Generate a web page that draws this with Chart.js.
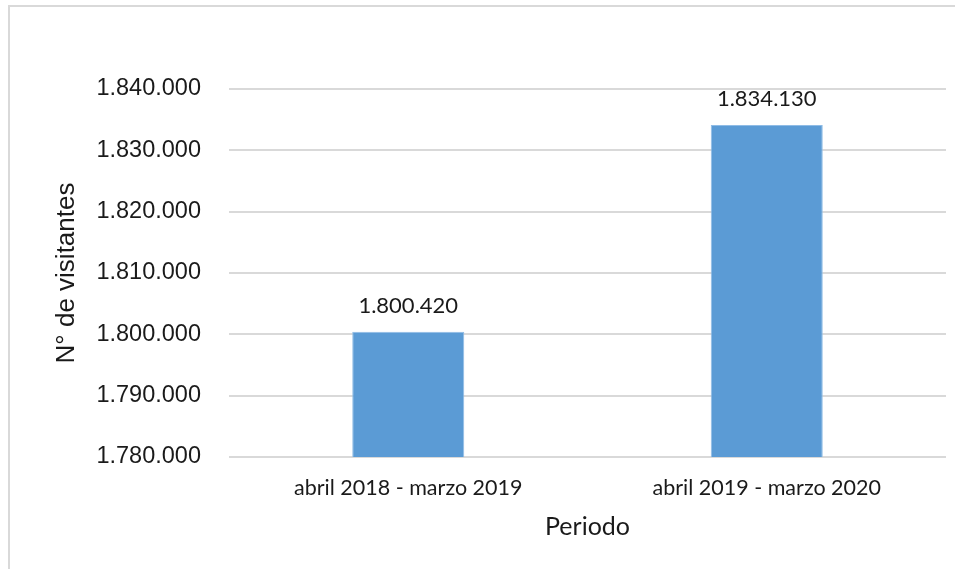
<!DOCTYPE html>
<html>
<head>
<meta charset="utf-8">
<script src="https://cdn.jsdelivr.net/npm/chart.js@4.4.1/dist/chart.umd.min.js"></script>
<style>
  html, body { margin: 0; padding: 0; background: #fff; }
  #wrap { position: relative; width: 955px; height: 569px; overflow: hidden; }
  #frame { position: absolute; left: 8px; top: 5px; width: 960px; height: 580px;
           border-left: 2px solid #d9d9d9; border-top: 2px solid #d9d9d9; }
  canvas { position: absolute; left: 0; top: 0; }
</style>
</head>
<body>
<div id="wrap">
  <div id="frame"></div>
  <canvas id="myChart" width="955" height="569"></canvas>
</div>
<script>
const periods = ["abril 2018 - marzo 2019", "abril 2019 - marzo 2020"];
const visitors = [1800420, 1834130];
const yMin = 1780000;
const yMax = 1840000;
const yStep = 10000;

// separador de miles con punto
function fmt(v) {
    return String(Math.round(v)).replace(/\B(?=(\d{3})+(?!\d))/g, ".");
}

const labelFont = "Lato, 'Liberation Sans', sans-serif";
const arial = "'Liberation Sans', Arial, sans-serif";

// etiquetas de datos encima de cada barra
const valueLabels = {
    id: "valueLabels",
    afterDatasetsDraw(chart) {
        const ctx = chart.ctx;
        const meta = chart.getDatasetMeta(0);
        ctx.save();
        ctx.font = "22px " + labelFont;
        ctx.fillStyle = "#1a1a1a";
        ctx.textAlign = "center";
        ctx.textBaseline = "middle";
        meta.data.forEach((bar, i) => {
            ctx.fillText(fmt(chart.data.datasets[0].data[i]), bar.x, bar.y - 26);
        });
        ctx.restore();
    }
};

const ctx = document.getElementById("myChart").getContext("2d");
const myChart = new Chart(ctx, {
    type: "bar",
    data: {
        labels: periods,
        datasets: [{
            data: visitors,
            backgroundColor: "#5b9bd5",
            borderColor: "#8fbce6",
            borderWidth: 1,
            barPercentage: 0.625,
            categoryPercentage: 0.5
        }]
    },
    options: {
        responsive: false,
        animation: false,
        layout: { padding: { left: 51, right: 9, top: 89, bottom: 27 } },
        plugins: {
            legend: { display: false },
            tooltip: { enabled: false }
        },
        scales: {
            x: {
                grid: { display: false, drawTicks: false },
                border: { display: false },
                ticks: {
                    color: "#1a1a1a",
                    font: { family: labelFont, size: 21.5 },
                    padding: 18,
                    maxRotation: 0
                },
                title: {
                    display: true,
                    text: "Periodo",
                    color: "#1a1a1a",
                    font: { family: labelFont, size: 25 },
                    padding: 0
                },
                afterFit(scale) { scale.height = 85; }
            },
            y: {
                min: yMin,
                max: yMax,
                grid: { color: "#d9d9d9", lineWidth: 2, drawTicks: false },
                border: { display: false },
                ticks: {
                    stepSize: yStep,
                    color: "#1a1a1a",
                    font: { family: arial, size: 23.5 },
                    padding: 28,
                    callback: v => fmt(v)
                },
                title: {
                    display: true,
                    text: "N° de visitantes",
                    color: "#1a1a1a",
                    font: { family: arial, size: 26 },
                    padding: 0
                },
                afterFit(scale) { scale.width = 178; }
            }
        }
    },
    plugins: [valueLabels]
});
</script>
</body>
</html>
